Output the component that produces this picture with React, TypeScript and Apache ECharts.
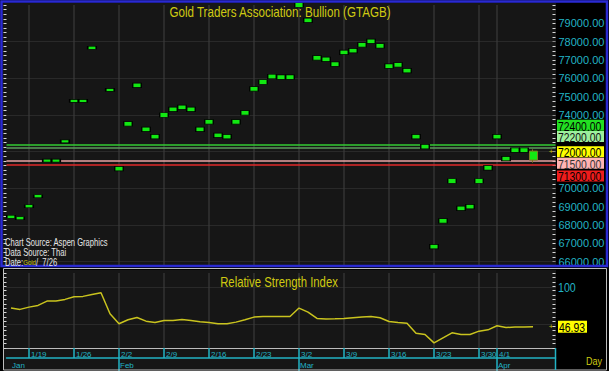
import React, { useEffect, useRef } from "react";
import * as echarts from "echarts";

// ---------- data ----------
const dates = [
  "1/15", "1/16", "1/19", "1/20", "1/21", "1/22", "1/23", "1/26", "1/27", "1/28", "1/29", "1/30",
  "2/2", "2/3", "2/4", "2/5", "2/6", "2/9", "2/10", "2/11", "2/12", "2/13", "2/16", "2/17", "2/18", "2/19", "2/20", "2/23", "2/24", "2/25", "2/26", "2/27",
  "3/2", "3/3", "3/4", "3/5", "3/6", "3/9", "3/10", "3/11", "3/12", "3/13", "3/16", "3/17", "3/18", "3/19", "3/20", "3/23", "3/24", "3/25", "3/26", "3/27", "3/30", "3/31",
  "4/1", "4/2", "4/3", "4/6", "4/7",
];
const futureSlots = ["", " "];

const closes: (number | null)[] = [
  68450, 68370, 69020, 69570, 71510, 71510, 72560, 74770, 74770, 77670, null, 75370,
  71070, 73510, 75620, 73220, 72820, 74000, 74310, 74420, 74310, 73220, 73620, 72890, 72820, 73620, 74110, 75420, 75800, 76100, 76060, 76060,
  80000, 79160, 77110, 77040, 76770, 77410, 77510, 77820, 78020, 77770, 76660, 76730, 76420, 72820, 72270, 66820, 68220, 70400, 68910, 69000, 70400, 71120,
  72820, 71620, 72090, 72090, null,
];
// last session shown as a candle: [open, close, low, high]
const lastCandle = [72030, 71540, 71400, 72130];

const rsi = [
  72.3, 70.5, 73.6, 75.9, 81.8, 81.8, 84.1, 87.8, 88.2, 90.9, 93.2, 64.6,
  50.9, 56.4, 59.5, 54.5, 52.7, 55.5, 55.5, 56.8, 55.5, 53.6, 52.7, 50.9, 50.9, 53.2, 56.4, 60.0, 60.9, 60.9, 60.9, 60.9,
  72.3, 66.8, 58.2, 57.3, 57.7, 58.2, 59.1, 60.0, 60.9, 59.1, 54.1, 52.7, 51.8, 38.2, 36.4, 25.0, 31.8, 38.6, 36.4, 36.4, 40.9, 42.7,
  48.2, 45.9, 46.4, 46.4, 46.93,
];

const weekLabels = ["1/19", "1/26", "2/2", "2/9", "2/16", "2/23", "3/2", "3/9", "3/16", "3/23", "3/30", "4/1"];
const monthNames = ["Jan", "Feb", "Mar", "Apr"];
const priceGridLevels = [66000, 68000, 70000, 72000, 74000, 76000, 78000];
const rsiGridLevels = [50, 100];
const levelValues = [72400, 72200, 72000, 71500, 71300];
const lastPrice = 72000;
const priceMin = 65750;
const priceMax = 80000;
const rsiMin = 18;
const rsiMax = 120;

// ---------- styles ----------
const FONT = '"Liberation Sans", Arial, sans-serif';
const CYAN = "#22b3c4";
const YELLOW = "#cfca12";
const PLOT_BG = "#161616";
const VGRID = "#2b2b2b";
const HGRID = "#3d3d3d";
const CANDLE = "#12e812";
const NARROW_SCALE = 0.82;
// per level: line colour (null = no line), label background, label text, label vertical shift
const levelStyles = [
  { line: "#33cc33", bg: "#22e022", fg: "#000", dy: -19 },
  { line: "#5c9c5c", bg: "#9df09d", fg: "#111", dy: -11.5 },
  { line: null, bg: "#ffff00", fg: "#000", dy: 0 },
  { line: "#e8a4a4", bg: "#ffb4b4", fg: "#333", dy: 2.5 },
  { line: "#e02a2a", bg: "#ee1c1c", fg: "#000", dy: 11.5 },
];

const categories = [...dates, ...futureSlots];
const weekIdx = new Set(weekLabels.map((l) => categories.indexOf(l)));
const monthOf = (d: string) => Number(d.split("/")[0]);
const monthStartIdx = new Set(
  dates.map((d, i) => (i > 0 && monthOf(d) !== monthOf(dates[i - 1]) ? i : -1)).filter((i) => i >= 0)
);

function buildOption(): any {
  const scatterData = closes.map((v) => (v == null ? "-" : v));
  const candleData = dates.map((_, i) => (i === dates.length - 1 ? lastCandle : "-"));

  const vLines = weekLabels.map((l) => ({
    xAxis: l,
    lineStyle: { color: VGRID, width: 2, type: "solid" },
  }));

  return {
    animation: false,
    backgroundColor: "#000",
    grid: [
      { left: 6.5, top: 5, width: 549, height: 261.25 },
      { left: 6.5, top: 273, width: 549, height: 75 },
    ],
    xAxis: [
      {
        type: "category", gridIndex: 0, data: categories, boundaryGap: true,
        axisLine: { show: false }, axisTick: { show: false }, axisLabel: { show: false }, splitLine: { show: false },
      },
      {
        type: "category", gridIndex: 1, data: categories, boundaryGap: true, position: "bottom",
        axisLine: { show: true, lineStyle: { color: "#bcbcbc", width: 1 } },
        axisTick: {
          show: true, alignWithLabel: true, length: 10,
          interval: (i: number) => weekIdx.has(i),
          lineStyle: { color: CYAN, width: 1.5 },
        },
        axisLabel: {
          show: true, interval: (i: number) => weekIdx.has(i),
          color: CYAN, fontSize: 8, fontFamily: FONT, align: "left", margin: 2, padding: [0, 0, 0, 2],
        },
        splitLine: { show: false },
      },
      {
        type: "category", gridIndex: 1, data: categories, boundaryGap: true, position: "bottom", offset: 10,
        axisLine: { show: true, lineStyle: { color: CYAN, width: 1.5 } },
        axisTick: {
          show: true, alignWithLabel: true, length: 13,
          interval: (i: number) => monthStartIdx.has(i),
          lineStyle: { color: CYAN, width: 1.5 },
        },
        axisLabel: {
          show: true, interval: (i: number) => i === 0 || monthStartIdx.has(i),
          formatter: (v: string) => (v.trim() ? monthNames[monthOf(v) - 1] : ""),
          color: CYAN, fontSize: 8, fontFamily: FONT, align: "left", margin: 3, padding: [0, 0, 0, 1],
        },
        splitLine: { show: false },
      },
    ],
    yAxis: [
      {
        type: "value", gridIndex: 0, position: "left", min: priceMin, max: priceMax, interval: 250,
        axisLine: { show: false }, axisLabel: { show: false }, splitLine: { show: false },
        axisTick: { show: true, inside: false, length: 3, lineStyle: { color: "#d8d8d8" } },
      },
      {
        type: "value", gridIndex: 0, position: "right", min: priceMin, max: priceMax, interval: 250,
        axisLine: { show: false }, splitLine: { show: false },
        axisTick: { show: true, inside: true, length: 3, lineStyle: { color: "#d8d8d8" } },
        axisLabel: {
          show: true, margin: 3, color: CYAN, fontSize: 11, fontFamily: FONT,
          formatter: (v: number) =>
            v % 1000 === 0 && v < priceMax && (v < 71000 || v > 73000) ? v.toFixed(2) : "",
        },
      },
      {
        type: "value", gridIndex: 1, position: "left", min: rsiMin, max: rsiMax, interval: 6,
        axisLine: { show: false }, axisLabel: { show: false }, splitLine: { show: false },
        axisTick: { show: true, inside: false, length: 3, lineStyle: { color: "#d8d8d8" } },
      },
      {
        type: "value", gridIndex: 1, position: "right", min: rsiMin, max: rsiMax, interval: 6,
        axisLine: { show: false }, axisLabel: { show: false }, splitLine: { show: false },
        axisTick: { show: true, inside: true, length: 3, lineStyle: { color: "#d8d8d8" } },
      },
    ],
    series: [
      {
        name: "GTAGB", type: "scatter", xAxisIndex: 0, yAxisIndex: 1, z: 4,
        data: scatterData, symbol: "rect",
        symbolSize: (_v: any, p: any) => (p.dataIndex < 12 ? [8.5, 3] : [8.5, 4.5]),
        itemStyle: { color: CANDLE, borderColor: "#000", borderWidth: 1, opacity: 1 },
        markLine: {
          silent: true, z: 1, symbol: ["none", "none"], label: { show: false },
          data: [
            ...vLines,
            ...priceGridLevels.map((v) => ({ yAxis: v, lineStyle: { color: HGRID, width: 1, type: "dotted" } })),
          ],
        },
      },
      {
        name: "last", type: "candlestick", xAxisIndex: 0, yAxisIndex: 1, z: 4,
        data: candleData, barWidth: 8.5,
        itemStyle: { color: CANDLE, color0: CANDLE, borderColor: "#7d7a22", borderColor0: "#7d7a22", borderWidth: 1 },
        markLine: {
          silent: true, z: 2, symbol: ["none", "none"], label: { show: false },
          data: levelValues
            .map((v, i) => ({ v, s: levelStyles[i] }))
            .filter((o) => o.s.line)
            .map((o) => ({ yAxis: o.v, lineStyle: { color: o.s.line, width: 1.5, type: "solid" } })),
        },
      },
      {
        name: "RSI", type: "line", xAxisIndex: 1, yAxisIndex: 3, z: 4,
        data: rsi, symbol: "none",
        lineStyle: { color: "#c9c31e", width: 1.5 },
        markLine: {
          silent: true, z: 1, symbol: ["none", "none"], label: { show: false },
          data: [
            ...vLines,
            ...rsiGridLevels.map((v) => ({ yAxis: v, lineStyle: { color: HGRID, width: 1, type: "dotted" } })),
          ],
        },
      },
    ],
  };
}

function label(text: string, x: number, y: number, fill: string, size: number, align = "left", scale = NARROW_SCALE): any {
  return {
    type: "text", z: 101, x, y, scaleX: scale,
    style: { text, fill, fontSize: size, fontFamily: FONT, align, verticalAlign: "middle" },
  };
}

export default function App() {
  const ref = useRef<HTMLDivElement>(null);
  useEffect(() => {
    const chart = echarts.init(ref.current!, null, { renderer: "svg" });
    chart.setOption(buildOption());

    const py = (v: number) => chart.convertToPixel({ yAxisIndex: 1 }, v) as number;
    const ry = (v: number) => chart.convertToPixel({ yAxisIndex: 3 }, v) as number;
    const labelX = 557;
    const gfx: any[] = [
      { type: "rect", z: -10, shape: { x: 3, y: 3, width: 553, height: 263 }, style: { fill: PLOT_BG } },
      { type: "rect", z: -10, shape: { x: 4, y: 270, width: 552, height: 100 }, style: { fill: PLOT_BG } },
      { type: "rect", z: 100, shape: { x: 1.5, y: 1.5, width: 605.5, height: 264.5 }, style: { fill: "none", stroke: "#2a2ad2", lineWidth: 2.5 } },
      { type: "rect", z: 100, shape: { x: 3.5, y: 268.5, width: 603, height: 101.5 }, style: { fill: "none", stroke: "#bdbdbd", lineWidth: 1 } },
      { type: "line", z: 100, shape: { x1: 555.5, y1: 348, x2: 555.5, y2: 370 }, style: { stroke: CYAN, lineWidth: 1.5 } },
      label("Gold Traders Association: Bullion (GTAGB)", 280, 12, YELLOW, 14, "center", 0.83),
      label("Relative Strength Index", 279, 282, YELLOW, 14, "center", 0.81),
      label("Chart Source: Aspen Graphics", 5, 243, "#e6e6e6", 10, "left", 0.76),
      label("Data Source: Thai", 5, 253, "#e6e6e6", 10, "left", 0.76),
      {
        type: "text", z: 101, x: 5, y: 263, scaleX: 0.76,
        style: {
          text: "{w|Date:}{y|Gold}{w|/  7/26}", align: "left", verticalAlign: "middle",
          rich: {
            w: { fill: "#e6e6e6", fontSize: 10, fontFamily: FONT },
            y: { fill: YELLOW, fontSize: 8, fontFamily: FONT },
          },
        },
      },
      label("Day", 586, 361, YELLOW, 10, "left", 0.9),
      label("100", 558, ry(100), CYAN, 13, "left"),
    ];

    levelValues.forEach((v, i) => {
      const s = levelStyles[i];
      const cy = py(v) + s.dy;
      gfx.push({ type: "rect", z: 100, shape: { x: labelX, y: cy - 5.5, width: 47, height: 11 }, style: { fill: s.bg } });
      gfx.push(label(v.toFixed(2), labelX + 1, cy + 0.5, s.fg, 13, "left", 0.8));
    });

    const lastRsi = rsi[rsi.length - 1];
    const rsiY = ry(lastRsi);
    gfx.push({ type: "rect", z: 100, shape: { x: 558, y: rsiY - 6, width: 29, height: 12 }, style: { fill: "#ffff00" } });
    gfx.push(label(lastRsi.toFixed(2), 559, rsiY + 0.5, "#000", 13, "left", 0.8));
    gfx.push(label("+", 551, rsiY, YELLOW, 8, "center", 1));
    gfx.push(label("+", 551, py(lastPrice), YELLOW, 8, "center", 1));

    chart.setOption({ graphic: gfx });
    return () => chart.dispose();
  }, []);
  return <div ref={ref} style={{ position: "fixed", left: 0, top: 0, width: 609, height: 371 }} />;
}
